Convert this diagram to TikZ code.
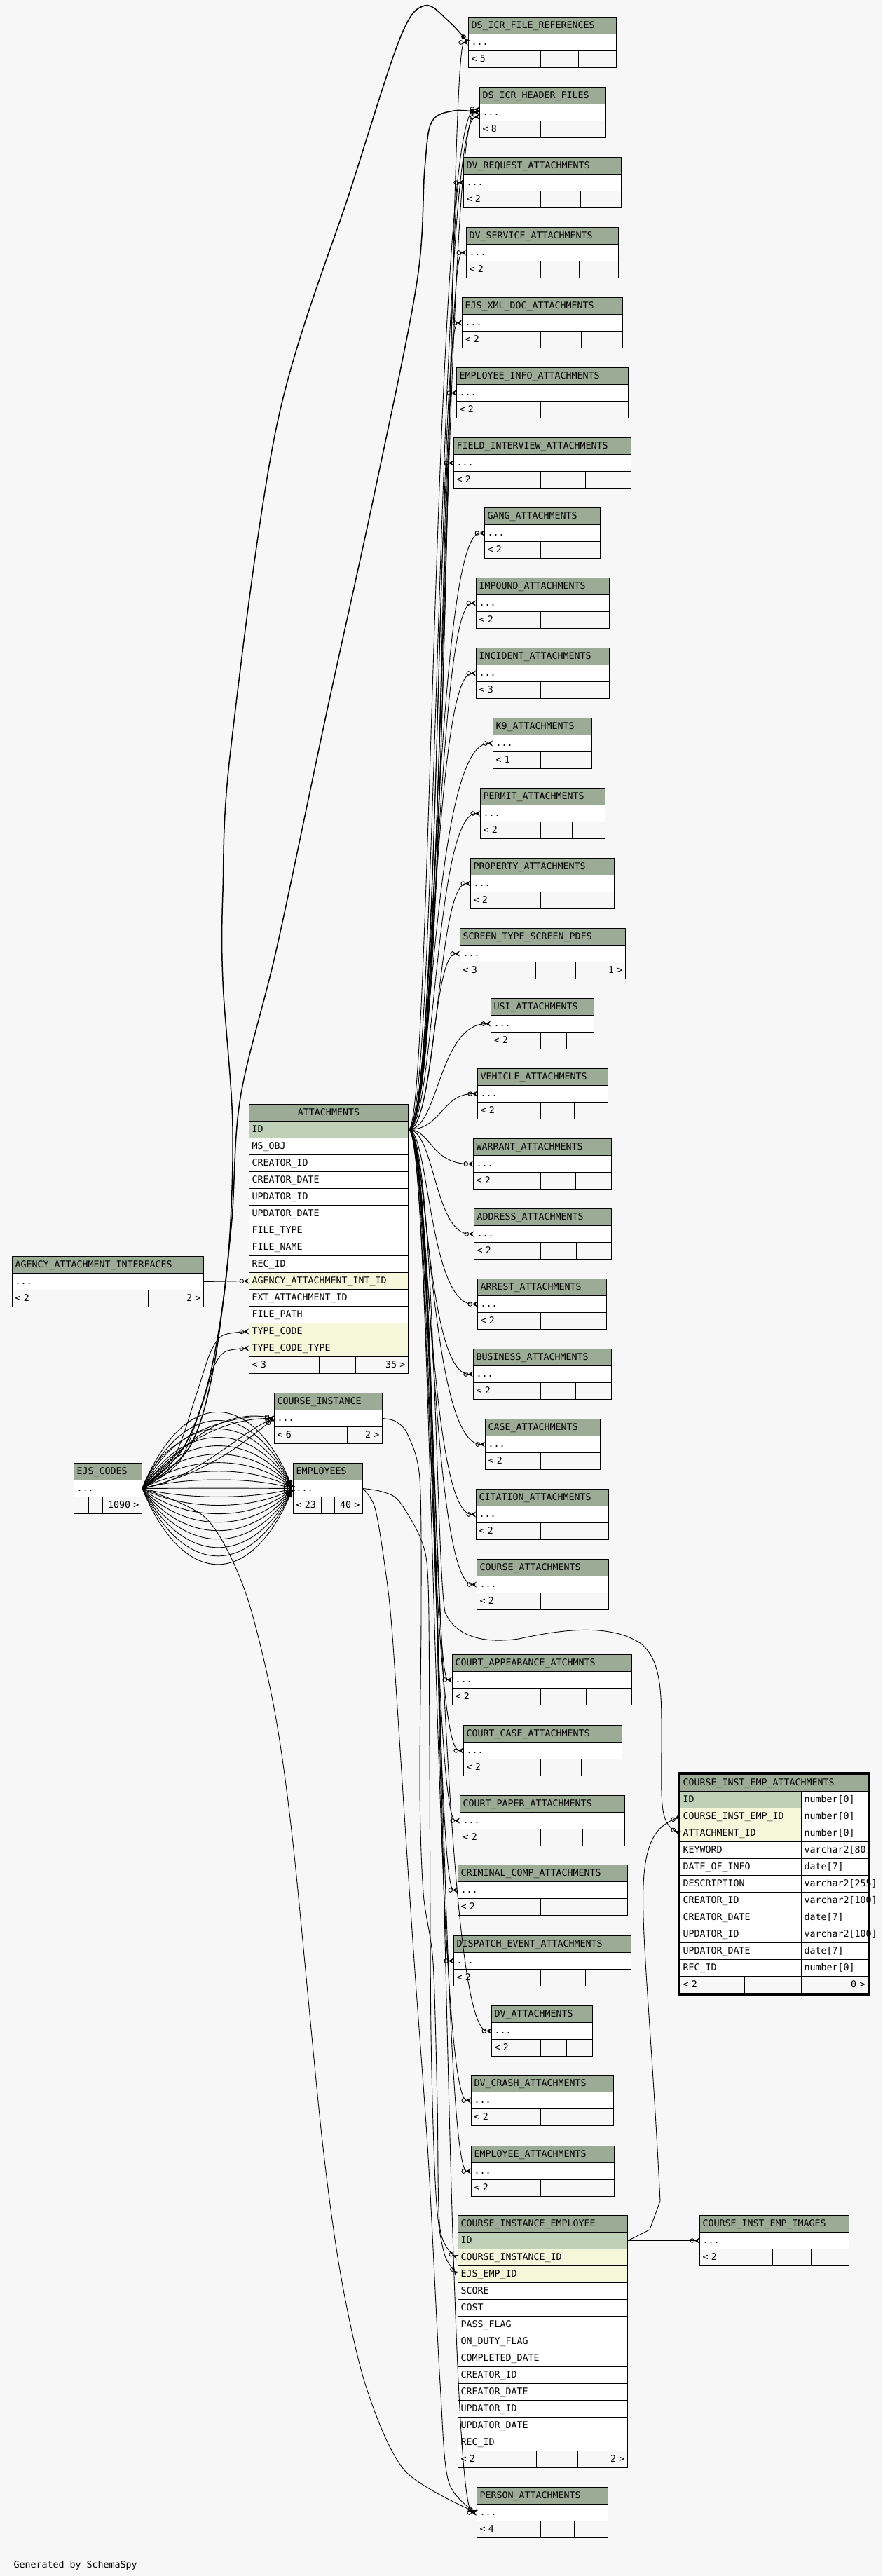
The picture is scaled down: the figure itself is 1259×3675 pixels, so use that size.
\documentclass[tikz,border=0pt]{standalone}
\usepackage{fontspec}
\setmainfont{DejaVu Sans Mono}
\usetikzlibrary{arrows.meta}

\definecolor{headgreen}{HTML}{9BAB96}
\definecolor{pkgreen}{HTML}{BED1B8}
\definecolor{fkyellow}{HTML}{F4F7DA}
\definecolor{bggray}{HTML}{F7F7F7}

\newcommand{\tabfont}{\fontsize{13.3}{15}\selectfont}

\tikzset{
    cell/.style={draw, line width=1pt, fill=white, anchor=north west, minimum height=24pt,
        inner xsep=4pt, inner ysep=0pt, text height=10pt, text depth=3pt, align=left, font=\tabfont},
    headcell/.style={cell, fill=headgreen},
    pkcell/.style={cell, fill=pkgreen},
    fkcell/.style={cell, fill=fkyellow},
    footcell/.style={cell, fill=bggray},
    fk/.style={line width=0.9pt, -{Circle[open, length=6.5pt] Stealth[reversed, length=7pt, width=8pt, inset=2.5pt]}},
}

% collapsed table: name, left, top, right, title, parents, divider 1, divider 2, children
\newcommand{\stubtable}[9]{%
    \pgfmathsetmacro{\tabwa}{#4-#2-8}%
    \pgfmathsetmacro{\tabwb}{#7-#2-8}%
    \pgfmathsetmacro{\tabwc}{#8-#7-8}%
    \pgfmathsetmacro{\tabwe}{#4-#8-8}%
    \node[headcell, text width=\tabwa pt] (#1-h)  at (#2,#3)    {#5};
    \node[cell,     text width=\tabwa pt] (#1)    at (#2,#3+24) {...};
    \node[footcell, text width=\tabwb pt] (#1-f1) at (#2,#3+48) {#6};
    \node[footcell, text width=\tabwc pt] (#1-f2) at (#7,#3+48) {};
    \node[footcell, text width=\tabwe pt, align=right] (#1-f3) at (#8,#3+48) {#9};
}

\begin{document}
\begin{tikzpicture}[x=1pt, y=-1pt]

    \fill[bggray] (0,0) rectangle (1259,3675);
    \useasboundingbox (0,0) rectangle (1259,3675);

    % ATTACHMENTS
    \node[headcell, align=center, text width=219pt] (att-h) at (355,1575) {ATTACHMENTS};
    \foreach \f/\s [count=\i] in {ID/pkcell, MS\_OBJ/cell, CREATOR\_ID/cell, CREATOR\_DATE/cell,
        UPDATOR\_ID/cell, UPDATOR\_DATE/cell, FILE\_TYPE/cell, FILE\_NAME/cell, REC\_ID/cell,
        AGENCY\_ATTACHMENT\_INT\_ID/fkcell, EXT\_ATTACHMENT\_ID/cell, FILE\_PATH/cell,
        TYPE\_CODE/fkcell, TYPE\_CODE\_TYPE/fkcell}
        \node[\s, text width=219pt] (att-\i) at (355,1575+24*\i) {\f};
    \node[footcell, text width=92pt]              (att-f1) at (355,1935) {< 3};
    \node[footcell, text width=44pt]              (att-f2) at (455,1935) {};
    \node[footcell, text width=67pt, align=right] (att-f3) at (507,1935) {35 >};

    % COURSE_INSTANCE_EMPLOYEE
    \node[headcell, text width=234pt] (cie-h) at (653,3160) {COURSE\_INSTANCE\_EMPLOYEE};
    \foreach \f/\s [count=\i] in {ID/pkcell, COURSE\_INSTANCE\_ID/fkcell, EJS\_EMP\_ID/fkcell,
        SCORE/cell, COST/cell, PASS\_FLAG/cell, ON\_DUTY\_FLAG/cell, COMPLETED\_DATE/cell,
        CREATOR\_ID/cell, CREATOR\_DATE/cell, UPDATOR\_ID/cell, UPDATOR\_DATE/cell, REC\_ID/cell}
        \node[\s, text width=234pt] (cie-\i) at (653,3160+24*\i) {\f};
    \node[footcell, text width=104pt]             (cie-f1) at (653,3496) {< 2};
    \node[footcell, text width=51pt]              (cie-f2) at (765,3496) {};
    \node[footcell, text width=63pt, align=right] (cie-f3) at (824,3496) {2 >};

    % COURSE_INST_EMP_ATTACHMENTS
    \node[headcell, text width=260pt] (ciea-h) at (970,2531) {COURSE\_INST\_EMP\_ATTACHMENTS};
    \foreach \f/\t/\s [count=\i] in {ID/number[0]/pkcell, COURSE\_INST\_EMP\_ID/number[0]/fkcell,
        ATTACHMENT\_ID/number[0]/fkcell, KEYWORD/varchar2[80]/cell, DATE\_OF\_INFO/date[7]/cell,
        DESCRIPTION/varchar2[255]/cell, CREATOR\_ID/varchar2[100]/cell, CREATOR\_DATE/date[7]/cell,
        UPDATOR\_ID/varchar2[100]/cell, UPDATOR\_DATE/date[7]/cell, REC\_ID/number[0]/cell}
    {
        \node[\s, text width=165pt] (ciea-\i)  at (970,2531+24*\i)  {\f};
        \node[cell, text width=87pt] (ciea-t\i) at (1143,2531+24*\i) {\t};
    }
    \node[footcell, text width=84pt]              (ciea-f1) at (970,2819)  {< 2};
    \node[footcell, text width=73pt]              (ciea-f2) at (1062,2819) {};
    \node[footcell, text width=87pt, align=right] (ciea-f3) at (1143,2819) {0 >};
    \draw[line width=3pt] ([shift={(-1.5,-1.5)}]ciea-h.north west) rectangle ([shift={(1.5,1.5)}]ciea-f3.south east);

    % other collapsed tables
    \stubtable{aai}{17}{1792}{290}{AGENCY\_ATTACHMENT\_INTERFACES}{< 2}{145}{211}{2 >}
    \stubtable{ci}{391}{1987}{545}{COURSE\_INSTANCE}{< 6}{459}{495}{2 >}
    \stubtable{ejs}{105}{2087}{202}{EJS\_CODES}{}{126}{146}{1090 >}
    \stubtable{emp}{418}{2087}{517}{EMPLOYEES}{< 23}{458}{477}{40 >}
    \stubtable{ciei}{998}{3160}{1211}{COURSE\_INST\_EMP\_IMAGES}{< 2}{1102}{1157}{}

    % attachment tables fed from ATTACHMENTS.ID
    \foreach \k/\x/\y/\r/\ttl/\pa/\da/\db/\ch/\bx in {
        dsfr/668/24/879/DS\_ICR\_FILE\_REFERENCES/< 5/771/825/{}/640,
        dshf/684/124/864/DS\_ICR\_HEADER\_FILES/< 8/771/817/{}/634,
        dvreq/661/224/886/DV\_REQUEST\_ATTACHMENTS/< 2/771/828/{}/638,
        dvserv/665/324/882/DV\_SERVICE\_ATTACHMENTS/< 2/771/826/{}/632,
        ejsxml/659/424/888/EJS\_XML\_DOC\_ATTACHMENTS/< 2/771/829/{}/626,
        empinfo/651/524/896/EMPLOYEE\_INFO\_ATTACHMENTS/< 2/771/833/{}/630,
        fieldint/647/624/900/FIELD\_INTERVIEW\_ATTACHMENTS/< 2/771/835/{}/624,
        gang/691/724/856/GANG\_ATTACHMENTS/< 2/771/813/{}/620,
        impound/679/824/869/IMPOUND\_ATTACHMENTS/< 2/771/820/{}/622,
        incident/679/924/869/INCIDENT\_ATTACHMENTS/< 3/771/820/{}/618,
        kennel/703/1024/844/K9\_ATTACHMENTS/< 1/771/807/{}/616,
        permit/685/1124/863/PERMIT\_ATTACHMENTS/< 2/771/816/{}/620,
        property/671/1224/876/PROPERTY\_ATTACHMENTS/< 2/771/823/{}/624,
        screen/656/1324/892/SCREEN\_TYPE\_SCREEN\_PDFS/< 3/764/821/1 >/618,
        usi/700/1424/847/USI\_ATTACHMENTS/< 2/771/808/{}/626,
        vehicle/681/1524/867/VEHICLE\_ATTACHMENTS/< 2/771/819/{}/630,
        warrant/675/1624/872/WARRANT\_ATTACHMENTS/< 2/771/821/{}/615,
        address/676/1724/872/ADDRESS\_ATTACHMENTS/< 2/771/822/{}/620,
        arrest/681/1824/865/ARREST\_ATTACHMENTS/< 2/771/817/{}/612,
        business/675/1924/872/BUSINESS\_ATTACHMENTS/< 2/771/821/{}/608,
        case/692/2024/856/CASE\_ATTACHMENTS/< 2/771/813/{}/612,
        citation/679/2124/868/CITATION\_ATTACHMENTS/< 2/771/820/{}/610,
        course/680/2224/868/COURSE\_ATTACHMENTS/< 2/771/820/{}/614,
        courtapp/645/2360/901/COURT\_APPEARANCE\_ATCHMNTS/< 2/771/836/{}/618,
        courtcase/661/2461/887/COURT\_CASE\_ATTACHMENTS/< 2/771/829/{}/612,
        courtpaper/656/2561/891/COURT\_PAPER\_ATTACHMENTS/< 2/771/831/{}/616,
        crimcomp/653/2660/895/CRIMINAL\_COMP\_ATTACHMENTS/< 2/771/833/{}/620,
        dispatch/647/2761/900/DISPATCH\_EVENT\_ATTACHMENTS/< 2/771/835/{}/624,
        dvatt/701/2861/845/DV\_ATTACHMENTS/< 2/771/808/{}/622,
        dvcrash/672/2960/875/DV\_CRASH\_ATTACHMENTS/< 2/771/823/{}/618,
        empatt/672/3061/876/EMPLOYEE\_ATTACHMENTS/< 2/771/823/{}/626,
        person/680/3548/867/PERSON\_ATTACHMENTS/< 4/771/819/{}/632%
    }
    {
        \stubtable{\k}{\x}{\y}{\r}{\ttl}{\pa}{\da}{\db}{\ch}
        \draw[fk] (att-1.east) .. controls (\bx,0 |- att-1.east) and (\bx,0 |- \k.west) .. (\k.west);
    }
    \draw[fk] (att-1.east) .. controls (624,1611) and (624,172) .. ([yshift=-6pt]dshf.west);
    \draw[fk] (att-1.east) .. controls (616,1611) and (618,150) .. ([yshift=4pt]dshf.west);

    % ATTACHMENTS.ID down to COURSE_INST_EMP_ATTACHMENTS
    \draw[fk] (att-1.east) .. controls (620,1611) and (622,2230) .. (635,2300)
        .. controls (650,2335) and (690,2345) .. (740,2338)
        .. controls (800,2325) and (870,2315) .. (915,2345)
        .. controls (945,2370) and (944,2420) .. (944,2480)
        .. controls (944,2570) and (940,2600) .. (ciea-3.west);

    \draw[fk] (aai.east) -- (att-10.west);
    \draw[fk] (cie-1.east) -- (ciei.west);
    \draw[fk] (cie-1.east) -- (927,3181) -- (942,3140) .. controls (930,2900) and (915,2760) .. (918,2690)
        .. controls (921,2620) and (940,2605) .. (ciea-2.west);

    % EJS_CODES
    \foreach \h in {-144,-128,...,144}
        \draw[fk] (ejs.east) .. controls (262,2123+\h) and (358,2123+\h) .. (emp.west);
    \foreach \a/\b/\c/\d in {250/2060/320/2023, 240/2090/300/2005, 280/2110/340/2045, 230/2040/350/2015, 300/2100/345/2060}
        \draw[fk] (ejs.east) .. controls (\a,\b) and (\c,\d) .. (ci.west);
    \draw[fk] plot[smooth] coordinates {(ejs.east) (250,2075) (280,1990) (300,1930) (318,1905) (att-13.west)};
    \draw[fk] plot[smooth] coordinates {(ejs.east) (256,2085) (288,2005) (305,1950) (322,1928) (att-14.west)};
    \draw[fk, line width=1.5pt] plot[smooth, tension=0.55] coordinates {(ejs.east) (262,2065) (300,1960) (325,1800)
        (332,1606) (318,1400) (318,1272) (329,1071) (396,602) (501,268) (571,54) (606,8) (640,30) (dsfr.west)};
    \draw[fk, line width=1.5pt] plot[smooth, tension=0.55] coordinates {(ejs.east) (270,2065) (305,1950) (330,1750)
        (343,1566) (395,1352) (466,1017) (536,696) (595,402) (606,241) (616,174) (648,158) (dshf.west)};
    \draw[fk] plot[smooth] coordinates {(ejs.east) (294,2166) (349,2268) (390,2431) (418,2629) (459,3046)
        (487,3250) (523,3407) (578,3525) (person.west)};

    % EMPLOYEES and COURSE_INSTANCE downwards
    \draw[fk] plot[smooth] coordinates {(emp.east) (545,2128) (569,2141) (601,2197) (611,2260) (613,2500)
        (615,2900) (622,3130) (634,3215) (cie-3.west)};
    \draw[fk] plot[smooth] coordinates {(emp.east) (535,2151) (549,2233) (560,2334) (581,2650) (592,2812)
        (611,3077) (628,3400) (640,3540) (person.west)};
    \draw[fk] plot[smooth] coordinates {(ci.east) (565,2028) (582,2047) (599,2110) (601,2300) (599,2550)
        (604,2700) (618,2800) (624,3000) (628,3180) (cie-2.west)};

    \node[anchor=west, font=\tabfont] (credit) at (16,3660) {Generated by SchemaSpy};
\end{tikzpicture}
\end{document}
